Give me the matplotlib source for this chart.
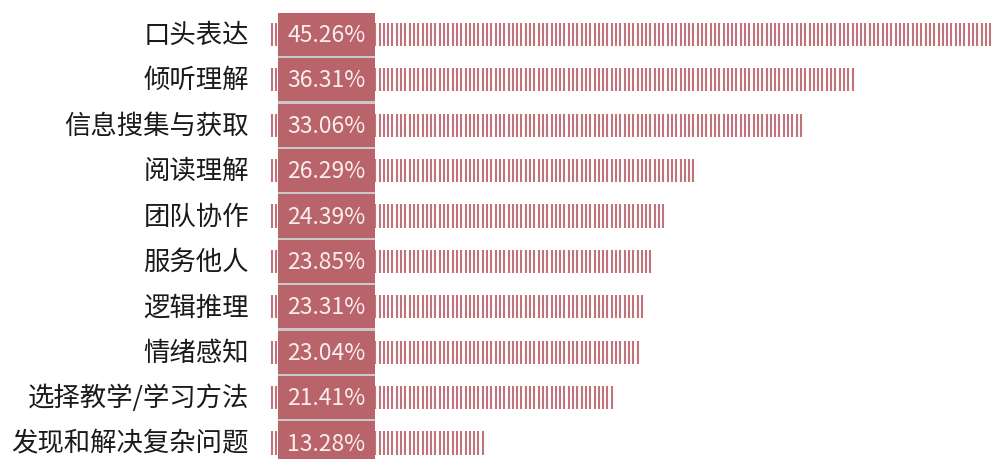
import numpy as np
import matplotlib
matplotlib.use("Agg")
import matplotlib.pyplot as plt
import matplotlib.transforms as mtransforms
import matplotlib.patheffects as pe
from matplotlib.patches import Rectangle

plt.rcParams['font.family'] = ['Noto Sans CJK SC', 'DejaVu Sans']

# skill categories and share of mentions (%)
skills = ["口头表达", "倾听理解", "信息搜集与获取", "阅读理解", "团队协作",
          "服务他人", "逻辑推理", "情绪感知", "选择教学/学习方法", "发现和解决复杂问题"]
shares = [45.26, 36.31, 33.06, 26.29, 24.39, 23.85, 23.31, 23.04, 21.41, 13.28]

bar_color = "#b9646a"
W, H = 992, 460

fig = plt.figure(figsize=(W / 100, H / 100), dpi=100)
fig.patch.set_facecolor("white")

# axes span the striped bar area; one row per skill
px_per_unit = 16.15
left_px = 269.5
right_px = left_px + px_per_unit * max(shares)   # longest bar runs past the edge
top_px, bottom_px = 12.8, 466.7
ax = fig.add_axes([left_px / W, (H - bottom_px) / H,
                   (right_px - left_px) / W, (bottom_px - top_px) / H])
ax.set_xlim(0, max(shares))
ax.set_ylim(len(skills) - 0.5, -0.5)
ax.axis("off")

step = 4.3 / px_per_unit          # stripe period

for i, v in enumerate(shares):
    xs = np.arange(step * 0.6, v, step)
    ax.vlines(xs, i - 0.255, i + 0.255, colors=bar_color, linewidth=1.5,
              alpha=0.9, clip_on=False)

# value boxes sit over the start of each bar
blend = mtransforms.blended_transform_factory(fig.transFigure, ax.transData)
box_l, box_r = 278 / W, 375 / W
for i, v in enumerate(shares):
    rect = Rectangle((box_l, i - 0.475), box_r - box_l, 0.95,
                     transform=blend, facecolor=bar_color, edgecolor="none",
                     clip_on=False, zorder=3)
    rect.set_path_effects([pe.SimplePatchShadow(offset=(0, -3), shadow_rgbFace="#888888",
                                                alpha=0.45), pe.Normal()])
    ax.add_patch(rect)
    ax.text((box_l + box_r) / 2, i, f"{v:.2f}%", transform=blend,
            ha="center", va="center", color="#fbeeee", fontsize=16.5, zorder=4)

# category labels on the left
for i, name in enumerate(skills):
    ax.text(249 / W, i, name, transform=blend, ha="right", va="center",
            fontsize=19, color="#1a1a1a")

fig.savefig("out.png", dpi=100, facecolor="white")
